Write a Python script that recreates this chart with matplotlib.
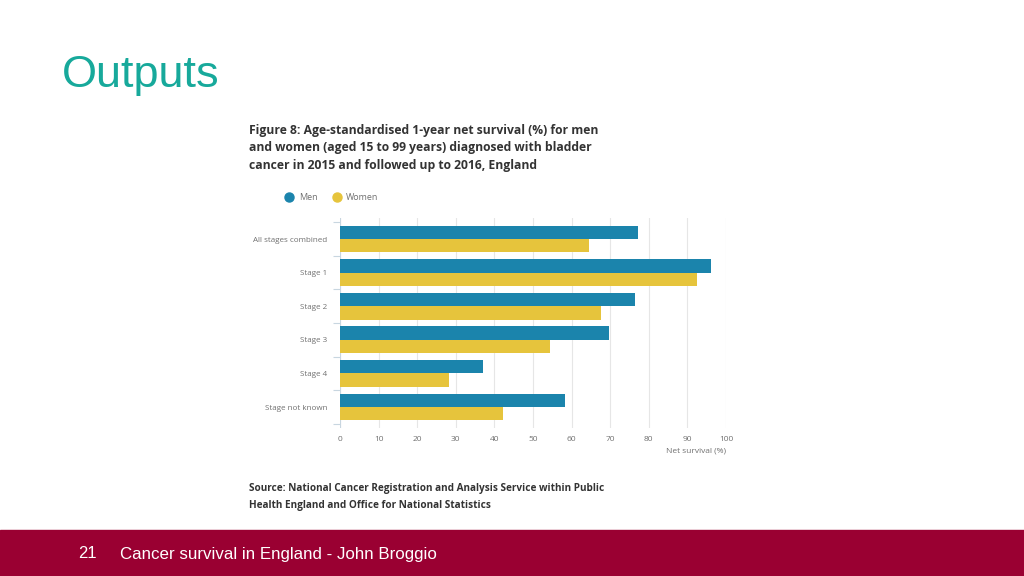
import numpy as np
import matplotlib.pyplot as plt
from matplotlib.patches import Rectangle
from matplotlib.lines import Line2D

categories = ["All stages combined", "Stage 1", "Stage 2", "Stage 3", "Stage 4", "Stage not known"]
men = [77.2, 96.1, 76.5, 69.6, 37.0, 58.3]
women = [64.4, 92.6, 67.5, 54.5, 28.2, 42.1]
x_ticks = [0, 10, 20, 30, 40, 50, 60, 70, 80, 90, 100]

MEN_COLOR = "#1B84AC"
WOMEN_COLOR = "#E6C43C"
TEXT_GREY = "#707070"
TITLE_DARK = "#333333"

fig = plt.figure(figsize=(10.24, 5.76), dpi=100)

# slide footer band
fig.add_artist(Rectangle((0, 0), 1, 46 / 576, transform=fig.transFigure,
                         color="#9A0032", zorder=0))
fig.text(78 / 1024, 22 / 576, "21", color="white", fontsize=12,
         family="Liberation Sans", ha="left", va="center")
fig.text(120 / 1024, 22 / 576, "Cancer survival in England - John Broggio", color="white",
         fontsize=12.2, family="Liberation Sans", ha="left", va="center")

# slide title
fig.text(62 / 1024, 1 - 75 / 576, "Outputs", color="#17A99B", fontsize=32.5,
         family="Liberation Sans", ha="left", va="center")

# figure title and source
fig.text(249 / 1024, 1 - 124 / 576,
         "Figure 8: Age-standardised 1-year net survival (%) for men\n"
         "and women (aged 15 to 99 years) diagnosed with bladder\n"
         "cancer in 2015 and followed up to 2016, England",
         color=TITLE_DARK, fontsize=8.75, family="Open Sans", weight="bold",
         ha="left", va="top", linespacing=1.45)
fig.text(249 / 1024, 1 - 483 / 576,
         "Source: National Cancer Registration and Analysis Service within Public\n"
         "Health England and Office for National Statistics",
         color=TITLE_DARK, fontsize=7.2, family="Open Sans", weight="bold",
         ha="left", va="top", linespacing=1.75)

# legend
fig.add_artist(Line2D([289 / 1024], [1 - 197 / 576], marker="o", markersize=6.5,
                      color=MEN_COLOR, transform=fig.transFigure, linestyle="none"))
fig.text(299 / 1024, 1 - 197 / 576, "Men", color=TEXT_GREY, fontsize=6.5,
         family="Open Sans", ha="left", va="center")
fig.add_artist(Line2D([337 / 1024], [1 - 197 / 576], marker="o", markersize=6.5,
                      color=WOMEN_COLOR, transform=fig.transFigure, linestyle="none"))
fig.text(346 / 1024, 1 - 197 / 576, "Women", color=TEXT_GREY, fontsize=6.5,
         family="Open Sans", ha="left", va="center")

# chart
ax = fig.add_axes([340 / 1024, 1 - 428 / 576, 386 / 1024, 210 / 576])
y = np.arange(len(categories))
h = 0.4
ax.barh(y - h / 2, men, height=h, color=MEN_COLOR, zorder=3)
ax.barh(y + h / 2, women, height=h, color=WOMEN_COLOR, zorder=3)

ax.set_xlim(0, 100)
ax.set_ylim(len(categories) - 0.375, -0.625)
ax.set_xticks(x_ticks)
ax.set_yticks(y)
ax.set_yticklabels(categories)
ax.set_yticks(np.arange(len(categories) + 1) - 0.5, minor=True)
ax.tick_params(axis="y", which="major", length=0, pad=9, labelsize=5.8, labelcolor=TEXT_GREY)
ax.tick_params(axis="y", which="minor", length=5, color="#C8D6E0", width=0.8)
ax.tick_params(axis="x", length=0, pad=6, labelsize=6, labelcolor=TEXT_GREY)
for lbl in ax.get_xticklabels() + ax.get_yticklabels():
    lbl.set_family("Open Sans")

ax.grid(axis="x", color="#E6E6E6", linewidth=0.8, zorder=0)
for side in ["top", "right", "bottom", "left"]:
    ax.spines[side].set_visible(False)
ax.axvline(0, color="#C8D6E0", linewidth=0.8, zorder=2)

fig.text(726 / 1024, 1 - 451 / 576, "Net survival (%)", color=TEXT_GREY, fontsize=6,
         family="Open Sans", ha="right", va="center")

fig.savefig("out.png", dpi=100)
